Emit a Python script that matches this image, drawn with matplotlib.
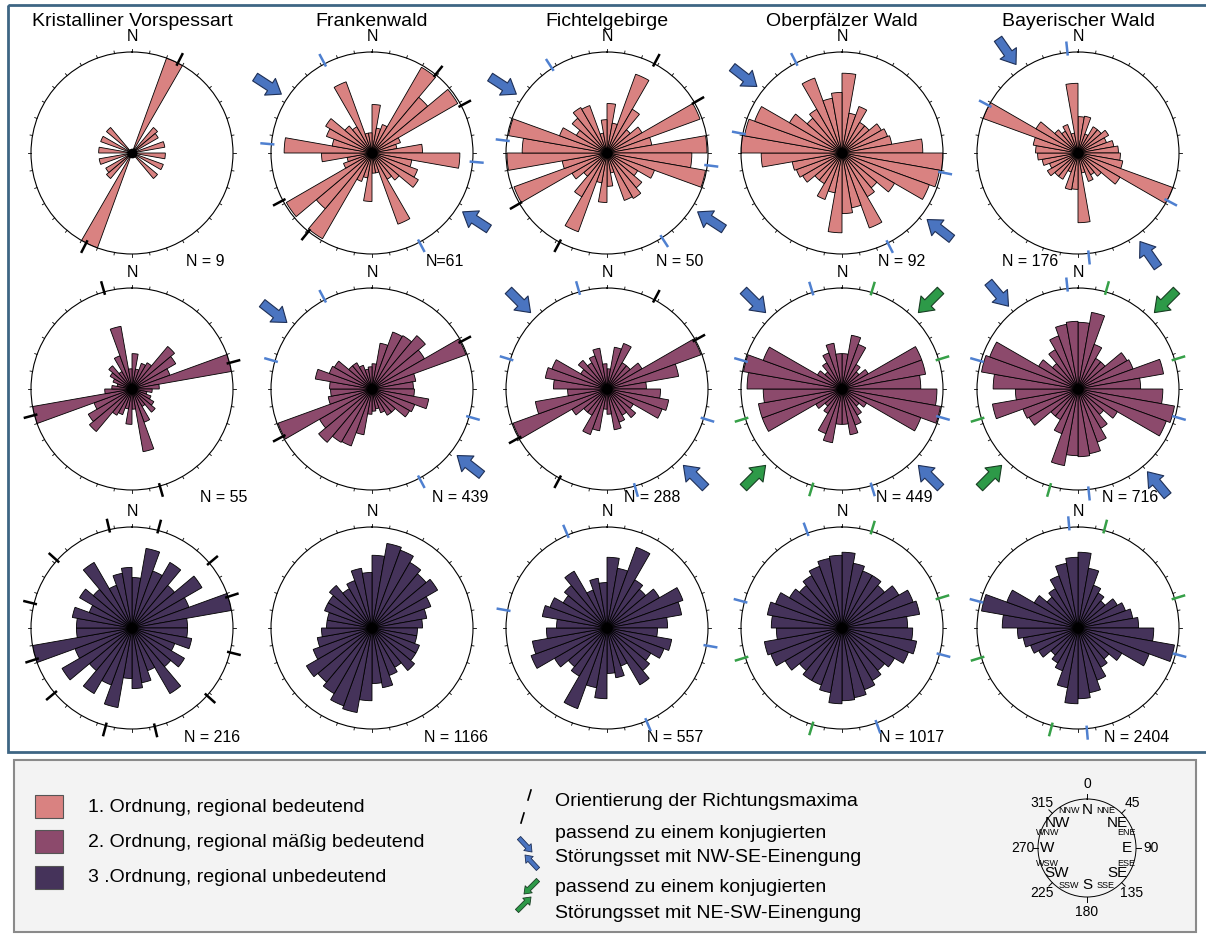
import numpy as np
import matplotlib.pyplot as plt
from matplotlib.patches import Rectangle

plt.rcParams['font.family'] = ['Liberation Sans', 'DejaVu Sans']

# 10 degree classes 0-10 ... 170-180, mirrored to 180-360 (strike directions)
classes = np.arange(0, 180, 10)

regions = ["Kristalliner Vorspessart", "Frankenwald", "Fichtelgebirge",
           "Oberpfälzer Wald", "Bayerischer Wald"]

# relative petal length (1 = outer circle)
o1_vorspessart = [0, 0, 1.0, 0, 0.33, 0.3, 0, 0.33, 0, 0.33, 0, 0.33, 0, 0.33, 0, 0, 0, 0]
o1_frankenwald = [0.48, 0.25, 0.3, 0.98, 0.72, 0.98, 0.3, 0.25, 0.5, 0.87, 0.4, 0.48, 0.53, 0.35, 0.3, 0.75, 0.2, 0.2]
o1_fichtel = [0.49, 0.3, 0.83, 0.5, 0.3, 0.4, 0.98, 0.45, 0.99, 0.84, 0.99, 0.5, 0.35, 0.45, 0.52, 0.5, 0.2, 0.33]
o1_oberpfalz = [0.79, 0.4, 0.49, 0.35, 0.35, 0.45, 0.48, 0.5, 0.8, 1.0, 0.98, 0.92, 0.6, 0.45, 0.5, 0.79, 0.55, 0.6]
o1_bayern = [0.36, 0.37, 0.2, 0.3, 0.3, 0.35, 0.3, 0.36, 0.4, 0.42, 0.45, 1.0, 0.48, 0.3, 0.25, 0.3, 0.2, 0.69]

o2_vorspessart = [0.35, 0.2, 0.27, 0.3, 0.55, 0.5, 0.4, 1.0, 0.27, 0.2, 0.15, 0.2, 0.25, 0.3, 0.2, 0.35, 0.63, 0.2]
o2_frankenwald = [0.25, 0.46, 0.6, 0.61, 0.69, 0.6, 0.99, 0.44, 0.41, 0.42, 0.57, 0.45, 0.43, 0.3, 0.3, 0.25, 0.2, 0.22]
o2_fichtel = [0.2, 0.42, 0.48, 0.3, 0.3, 0.4, 0.99, 0.72, 0.39, 0.53, 0.62, 0.58, 0.3, 0.37, 0.3, 0.35, 0.41, 0.25]
o2_oberpfalz = [0.35, 0.54, 0.47, 0.28, 0.22, 0.3, 0.84, 0.84, 0.78, 0.94, 0.99, 0.83, 0.28, 0.22, 0.3, 0.38, 0.46, 0.35]
o2_bayern = [0.66, 0.77, 0.47, 0.35, 0.35, 0.56, 0.58, 0.86, 0.62, 0.84, 0.97, 0.93, 0.45, 0.33, 0.45, 0.56, 0.65, 0.67]

o3_vorspessart = [0.5, 0.8, 0.6, 0.75, 0.55, 0.8, 0.6, 1.0, 0.55, 0.55, 0.6, 0.45, 0.6, 0.5, 0.75, 0.45, 0.55, 0.6]
o3_frankenwald = [0.72, 0.85, 0.82, 0.75, 0.7, 0.75, 0.62, 0.55, 0.5, 0.45, 0.45, 0.5, 0.5, 0.55, 0.45, 0.5, 0.6, 0.55]
o3_fichtel = [0.7, 0.6, 0.85, 0.55, 0.5, 0.6, 0.8, 0.75, 0.6, 0.5, 0.65, 0.6, 0.5, 0.55, 0.65, 0.4, 0.5, 0.45]
o3_oberpfalz = [0.75, 0.65, 0.6, 0.6, 0.55, 0.65, 0.75, 0.78, 0.65, 0.7, 0.75, 0.7, 0.6, 0.55, 0.6, 0.65, 0.7, 0.72]
o3_bayern = [0.75, 0.6, 0.45, 0.4, 0.35, 0.45, 0.5, 0.55, 0.6, 0.75, 0.97, 0.75, 0.5, 0.4, 0.45, 0.55, 0.65, 0.7]

petals = [[o1_vorspessart, o1_frankenwald, o1_fichtel, o1_oberpfalz, o1_bayern],
          [o2_vorspessart, o2_frankenwald, o2_fichtel, o2_oberpfalz, o2_bayern],
          [o3_vorspessart, o3_frankenwald, o3_fichtel, o3_oberpfalz, o3_bayern]]

n_counts = [[9, 61, 50, 92, 176],
            [55, 439, 288, 449, 716],
            [216, 1166, 557, 1017, 2404]]

# azimuths (deg) of the maxima / conjugate fault sets / shortening direction
maxima = [[[27], [39, 62], [28, 60], [], []],
          [[164, 75], [62], [28, 61], [], []],
          [[15, 50, 72, 104, 132, 167], [], [], [], []]]
blue_sets = [[[], [152, 95], [147, 97], [153, 101], [174, 118]],
             [[], [152, 106], [164, 107], [163, 106], [174, 106]],
             [[], [], [157, 100], [160, 105], [175, 105]]]
green_sets = [[[], [], [], [], []],
              [[], [], [], [17, 73], [16, 73]],
              [[], [], [], [17, 73], [15, 73]]]
blue_press = [[None, 123, 123, 128, 145],
              [None, 128, 135, 135, 140],
              [None, None, None, None, None]]
green_press = [[None] * 5,
               [None, None, None, 45, 45],
               [None] * 5]

order_colors = ['#d98281', '#8c4a6c', '#45335a']
order_labels = ["1. Ordnung, regional bedeutend",
                "2. Ordnung, regional mäßig bedeutend",
                "3 .Ordnung, regional unbedeutend"]
blue = '#4a74c0'
green = '#2d9a48'

# direction key labels
key_deg = ['0', '45', '90', '135', '180', '225', '270', '315']
main_dirs = ['N', 'NE', 'E', 'SE', 'S', 'SW', 'W', 'NW']
sub_dirs = ['NNE', 'ENE', 'ESE', 'SSE', 'SSW', 'WSW', 'WNW', 'NNW']

W, H = 1206, 938
fig = plt.figure(figsize=(W / 100, H / 100), dpi=100)

# overlay axes in pixel coordinates for frame, legend and labels
ov = fig.add_axes([0, 0, 1, 1])
ov.set_xlim(0, W)
ov.set_ylim(H, 0)
ov.axis('off')

ov.add_patch(Rectangle((8, 5), 1210, 747, fill=False, ec='#3e6684', lw=2))
ov.add_patch(Rectangle((14, 760), 1182, 172, fc='#f3f3f3', ec='#8a8a8a', lw=1.5))

col_x = [132, 372, 607, 842, 1078]
row_y = [153, 389, 628]
R = 101
nlab_dx = [[73, 73, 73, 60, -48], [92, 88, 45, 62, 52], [80, 84, 68, 70, 59]]


def rose(ax, vals, color):
    th = np.deg2rad(np.concatenate([classes, classes + 180]))
    r = np.concatenate([vals, vals])
    ax.bar(th, r, width=np.deg2rad(10), bottom=0, align='edge',
           color=color, edgecolor='black', lw=0.6, zorder=2)
    ax.plot(0, 0, 'o', color='black', ms=6, zorder=3)
    for t in range(0, 360, 10):
        ax.plot([np.deg2rad(t)] * 2, [1.0, 1.025], color='black', lw=0.6,
                clip_on=False)


def marks(ax, az_list, color):
    for a in az_list:
        for b in (a, a + 180):
            ax.plot([np.deg2rad(b)] * 2, [0.97, 1.11], color=color, lw=1.8,
                    clip_on=False, zorder=4, solid_capstyle='butt')


def press_arrows(ax, az, fc, ec):
    for b in (az, az + 180):
        t = np.deg2rad(b)
        ax.annotate('', xy=(t, 1.07), xytext=(t, 1.38),
                    arrowprops=dict(arrowstyle='simple,head_length=0.75,head_width=1.1,tail_width=0.5',
                                    fc=fc, ec=ec, lw=0.8, shrinkA=0, shrinkB=0,
                                    mutation_scale=13),
                    annotation_clip=False)


for i in range(3):
    for j in range(5):
        cx, cy = col_x[j], row_y[i]
        ax = fig.add_axes([(cx - R) / W, 1 - (cy + R) / H, 2 * R / W, 2 * R / H],
                          projection='polar')
        ax.set_theta_zero_location('N')
        ax.set_theta_direction(-1)
        ax.set_ylim(0, 1)
        ax.set_xticks([])
        ax.set_yticks([])
        ax.grid(False)
        ax.patch.set_alpha(0)
        ax.spines['polar'].set_linewidth(0.8)
        rose(ax, petals[i][j], order_colors[i])
        marks(ax, maxima[i][j], 'black')
        marks(ax, blue_sets[i][j], '#4f80d0')
        marks(ax, green_sets[i][j], '#36a048')
        if blue_press[i][j] is not None:
            press_arrows(ax, blue_press[i][j], blue, '#1e2f55')
        if green_press[i][j] is not None:
            press_arrows(ax, green_press[i][j], green, '#173d22')
        ov.text(cx, cy - R - 8, 'N', ha='center', va='bottom', fontsize=11.5)
        label = 'N=61' if n_counts[i][j] == 61 else 'N = %d' % n_counts[i][j]
        ov.text(cx + nlab_dx[i][j], cy + R + 8, label,
                ha='center', va='center', fontsize=11.5)

for j in range(5):
    ov.text(col_x[j], 21, regions[j], ha='center', va='center', fontsize=14)

# legend
for k in range(3):
    ov.add_patch(Rectangle((35, 795 + k * 35.5), 28, 23, fc=order_colors[k],
                           ec='#555555', lw=0.8))
    ov.text(88, 807 + k * 35.5, order_labels[k], va='center', fontsize=14)

ov.plot([528, 531], [800, 790], color='black', lw=1.2)
ov.plot([521, 524], [823, 813], color='black', lw=1.2)
ov.text(555, 802, "Orientierung der Richtungsmaxima", va='center', fontsize=14)

sym = dict(arrowstyle='simple,head_length=0.6,head_width=0.9,tail_width=0.4',
           shrinkA=0, shrinkB=0, mutation_scale=8, lw=0.6)
ov.annotate('', xy=(532, 852), xytext=(519, 838), arrowprops=dict(fc=blue, ec='#1e2f55', **sym))
ov.annotate('', xy=(525, 855), xytext=(538, 869), arrowprops=dict(fc=blue, ec='#1e2f55', **sym))
ov.annotate('', xy=(524, 894), xytext=(538, 880), arrowprops=dict(fc=green, ec='#173d22', **sym))
ov.annotate('', xy=(531, 897), xytext=(517, 911), arrowprops=dict(fc=green, ec='#173d22', **sym))
ov.text(555, 833, "passend zu einem konjugierten", va='center', fontsize=14)
ov.text(555, 858, "Störungsset mit NW-SE-Einengung", va='center', fontsize=14)
ov.text(555, 888, "passend zu einem konjugierten", va='center', fontsize=14)
ov.text(555, 913, "Störungsset mit NE-SW-Einengung", va='center', fontsize=14)

# direction key
ccx, ccy, cr = 1087, 848, 49
key = fig.add_axes([(ccx - cr) / W, 1 - (ccy + cr) / H, 2 * cr / W, 2 * cr / H],
                   projection='polar')
key.set_theta_zero_location('N')
key.set_theta_direction(-1)
key.set_ylim(0, 1)
key.set_xticks([])
key.set_yticks([])
key.grid(False)
key.patch.set_alpha(0)
key.spines['polar'].set_linewidth(0.7)
main_r = [0.78, 0.8, 0.82, 0.8, 0.76, 0.8, 0.82, 0.8]
main_t = [0, 50, 90, 130, 180, 230, 270, 310]
sub_t = [26, 68, 112, 154, 206, 248, 292, 334]
for k in range(8):
    t = np.deg2rad(45 * k)
    key.plot([t, t], [1.0, 1.1], color='black', lw=0.7, clip_on=False)
    key.text(t, 1.3, key_deg[k], ha='center', va='center', fontsize=10)
    key.text(np.deg2rad(main_t[k]), main_r[k], main_dirs[k], ha='center',
             va='center', fontsize=11)
    key.text(np.deg2rad(sub_t[k]), 0.86, sub_dirs[k], ha='center',
             va='center', fontsize=6.5)

fig.savefig('out.png', dpi=100)
